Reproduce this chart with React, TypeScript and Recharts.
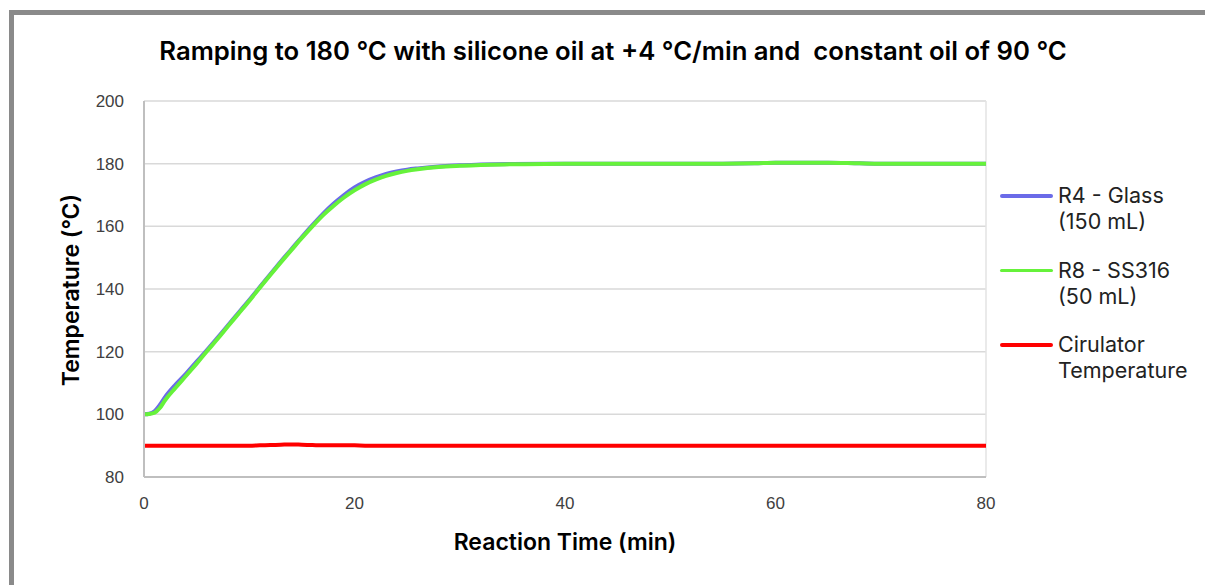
import React from "react";
import { LineChart, Line, XAxis, YAxis, CartesianGrid, ReferenceLine } from "recharts";

// reaction time (min)
const times = [0, 0.5, 1, 1.5, 2, 3, 4, 5, 6, 7, 8, 9, 10, 11, 12, 13, 14, 15, 16, 17, 18, 19, 20, 21, 22, 23, 24, 25, 26, 28, 30, 32, 35, 40, 45, 50, 55, 58, 60, 62, 65, 68, 70, 75, 80];

// R4 - Glass (150 mL)
const r4Glass = [100, 100.2, 101, 103, 105.5, 109.5, 113, 116.8, 120.6, 124.5, 128.5, 132.5, 136.5, 140.6, 144.7, 148.8, 152.7, 156.6, 160.4, 164, 167.2, 170, 172.4, 174.2, 175.6, 176.7, 177.5, 178.1, 178.5, 179.1, 179.5, 179.7, 179.9, 180, 180, 180, 180, 180.1, 180.3, 180.3, 180.3, 180.1, 180, 180, 180];

// R8 - SS316 (50 mL)
const r8Steel = [100, 100.1, 100.5, 102, 104.5, 108.5, 112.3, 116.2, 120.2, 124.1, 128.2, 132.2, 136.2, 140.4, 144.5, 148.5, 152.4, 156.3, 160, 163.5, 166.5, 169.2, 171.5, 173.4, 174.9, 176.1, 177, 177.7, 178.2, 178.9, 179.3, 179.6, 179.8, 180, 180, 180, 180, 180.1, 180.3, 180.3, 180.3, 180.1, 180, 180, 180];

// Cirulator Temperature
const circulator = [90, 90, 90, 90, 90, 90, 90, 90, 90, 90, 90, 90, 90, 90.1, 90.2, 90.3, 90.4, 90.3, 90.2, 90.1, 90.1, 90.1, 90.1, 90, 90, 90, 90, 90, 90, 90, 90, 90, 90, 90, 90, 90, 90, 90, 90, 90, 90, 90, 90, 90, 90];

const xTicks = [0, 20, 40, 60, 80];
const yTicks = [80, 100, 120, 140, 160, 180, 200];

const seriesNames = ["R4 - Glass (150 mL)", "R8 - SS316 (50 mL)", "Cirulator Temperature"];
const legendLines = [["R4 - Glass", "(150 mL)"], ["R8 - SS316", "(50 mL)"], ["Cirulator", "Temperature"]];
const colors = ["#6b6be8", "#66f23a", "#ff0000"];

const data = times.map((t, i) => ({
  t,
  r4: r4Glass[i],
  r8: r8Steel[i],
  circ: circulator[i],
}));

const tickStyle = { fill: "#404040", fontSize: 17, fontFamily: "Liberation Sans, Arial, sans-serif" };

// legend drawn as plain html so it doesn't eat into the plot area
function LegendBox() {
  return (
    <div style={{ position: "absolute", left: 1000, top: 182, fontFamily: "Inter, sans-serif", fontSize: 21.5, color: "#222" }}>
      {legendLines.map((lines, i) => (
        <div key={i} style={{ display: "flex", alignItems: "flex-start", marginBottom: i < 2 ? 22.5 : 0 }}>
          <div style={{ width: 53, height: 3.5, background: colors[i], borderRadius: 2, marginTop: 12, marginRight: 5 }} title={seriesNames[i]} />
          <div style={{ lineHeight: "26px" }}>
            {lines.map((l) => (
              <div key={l}>{l}</div>
            ))}
          </div>
        </div>
      ))}
    </div>
  );
}

export default function App() {
  return (
    <div style={{ position: "absolute", left: 0, top: 0, width: 1205, height: 585, overflow: "hidden", background: "#fff" }}>
      {/* frame */}
      <div style={{ position: "absolute", left: 9, top: 10, width: 1300, height: 700, borderTop: "5px solid #8a8a8a", borderLeft: "5px solid #8a8a8a" }} />
      <div style={{ position: "absolute", left: 0, top: 35, width: 1226, textAlign: "center", fontFamily: "Inter, sans-serif", fontWeight: 600, fontSize: 25.7, color: "#000" }}>
        Ramping to 180 °C with silicone oil at +4 °C/min and&nbsp; constant oil of 90 °C
      </div>
      <div style={{ position: "absolute", left: 0, top: 528, width: 1130, textAlign: "center", fontFamily: "Inter, sans-serif", fontWeight: 600, fontSize: 23, color: "#000" }}>
        Reaction Time (min)
      </div>
      <div style={{ position: "absolute", left: 71, top: 290, transform: "translate(-50%, -50%) rotate(-90deg)", whiteSpace: "nowrap", fontFamily: "Inter, sans-serif", fontWeight: 600, fontSize: 23, color: "#000" }}>
        Temperature (°C)
      </div>
      <div style={{ position: "absolute", left: 0, top: 0 }}>
        <LineChart width={1205} height={585} data={data} margin={{ top: 101, right: 219, bottom: 0, left: 0 }}>
          <CartesianGrid horizontal vertical={false} stroke="#d9d9d9" strokeWidth={1.5} />
          <XAxis
            type="number"
            dataKey="t"
            domain={[0, 80]}
            ticks={xTicks}
            tickLine={false}
            tickSize={0}
            tickMargin={20}
            axisLine={{ stroke: "#bfbfbf", strokeWidth: 2 }}
            tick={tickStyle}
            height={108}
          />
          <YAxis
            domain={[80, 200]}
            ticks={yTicks}
            tickLine={false}
            tickSize={0}
            tickMargin={20}
            axisLine={{ stroke: "#bfbfbf", strokeWidth: 2 }}
            tick={tickStyle}
            width={144}
          />
          <ReferenceLine x={80} stroke="#e3e3e3" strokeWidth={1.5} />
          <Line type="monotone" dataKey="r4" name={seriesNames[0]} stroke={colors[0]} strokeWidth={4} dot={false} isAnimationActive={false} />
          <Line type="monotone" dataKey="r8" name={seriesNames[1]} stroke={colors[1]} strokeWidth={4} dot={false} isAnimationActive={false} />
          <Line type="monotone" dataKey="circ" name={seriesNames[2]} stroke={colors[2]} strokeWidth={4} dot={false} isAnimationActive={false} />
        </LineChart>
      </div>
      <LegendBox />
    </div>
  );
}
